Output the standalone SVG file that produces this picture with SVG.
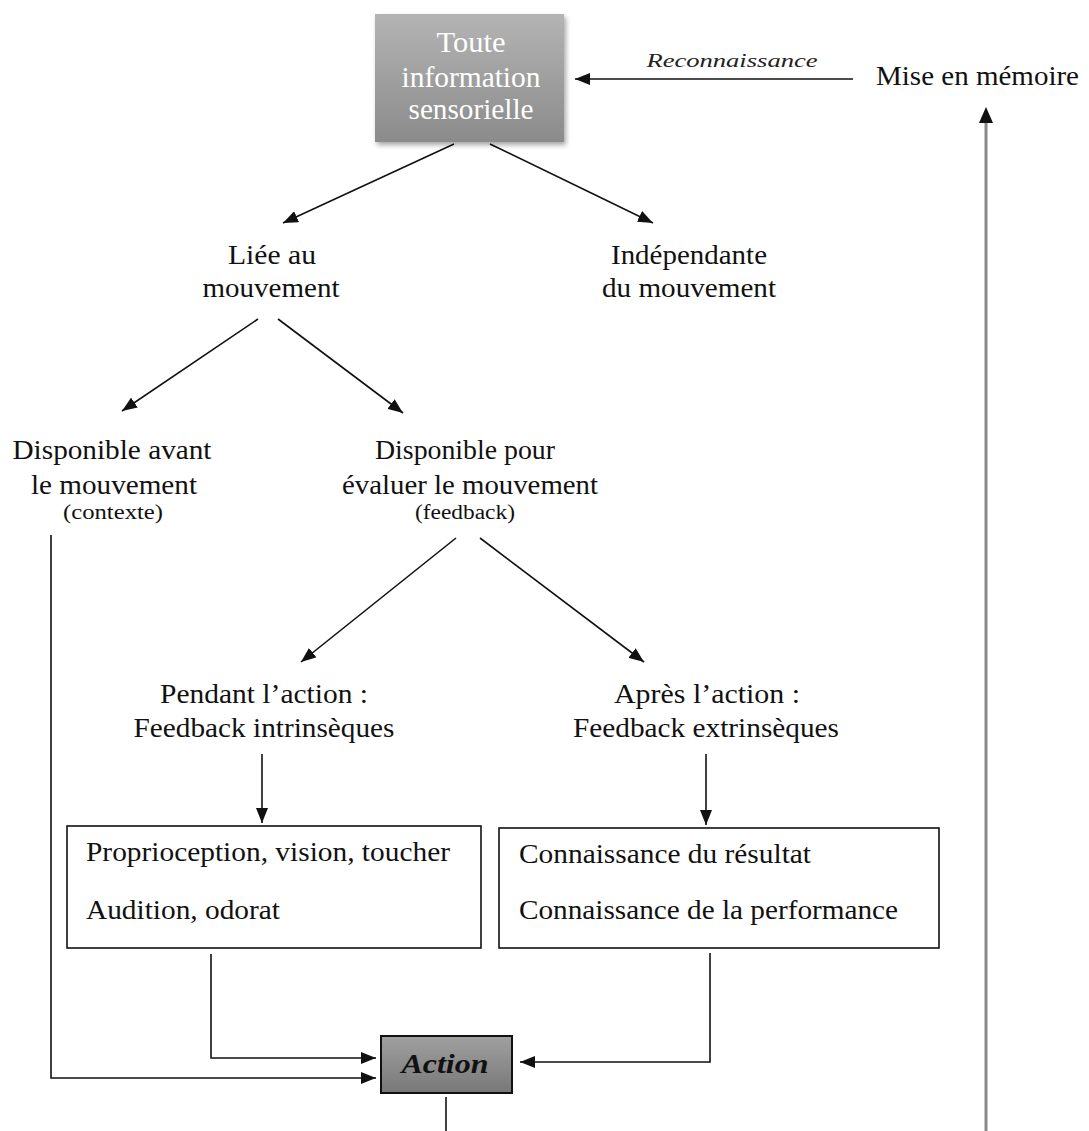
<svg xmlns="http://www.w3.org/2000/svg" width="1089" height="1131" viewBox="0 0 1089 1131" font-family="'Liberation Serif', Tinos, 'Times New Roman', Times, serif">
<style>
  text { font-family: 'Liberation Serif', Tinos, 'Times New Roman', Times, serif; }
  .t { font-size: 27px; fill: #111; text-anchor: middle; }
  .ts { font-size: 20px; fill: #111; text-anchor: middle; }
  .tl { font-size: 27px; fill: #111; text-anchor: start; }
  .tw { font-size: 29px; fill: #ffffff; text-anchor: middle; }
  .tr { font-size: 19px; font-style: italic; fill: #222; text-anchor: middle; }
  .ta { font-size: 28px; font-style: italic; font-weight: bold; fill: #111; text-anchor: middle; }
  .ln { fill: none; stroke: #111; stroke-width: 1.6; }
  .box { fill: #ffffff; stroke: #111; stroke-width: 1.6; }
</style>
<defs>
  <marker id="ah" markerUnits="userSpaceOnUse" markerWidth="16" markerHeight="12" refX="15" refY="6" orient="auto">
    <path d="M0,0 L15,6 L0,12 Z" fill="#111"/>
  </marker>
  <linearGradient id="gTop" x1="0" y1="0" x2="0" y2="1">
    <stop offset="0" stop-color="#b4b4b4"/>
    <stop offset="1" stop-color="#8b8b8b"/>
  </linearGradient>
  <linearGradient id="gAct" x1="0" y1="0" x2="0" y2="1">
    <stop offset="0" stop-color="#a0a0a0"/>
    <stop offset="1" stop-color="#787878"/>
  </linearGradient>
  <filter id="sh" x="-10%" y="-10%" width="125%" height="130%">
    <feDropShadow dx="2" dy="3" stdDeviation="2.5" flood-color="#000" flood-opacity="0.35"/>
  </filter>
</defs>

<g id="connectors">
  <line class="ln" x1="853" y1="79" x2="575" y2="79" marker-end="url(#ah)"/>
  <line x1="986" y1="1131" x2="986" y2="122" stroke="#8a8a8a" stroke-width="3"/>
  <path d="M979,123 L986,107 L993,123 Z" fill="#111"/>
  <line class="ln" x1="454" y1="144" x2="283" y2="223" marker-end="url(#ah)"/>
  <line class="ln" x1="490" y1="144" x2="653" y2="223" marker-end="url(#ah)"/>
  <line class="ln" x1="258" y1="319" x2="122" y2="411" marker-end="url(#ah)"/>
  <line class="ln" x1="278" y1="319" x2="403" y2="413" marker-end="url(#ah)"/>
  <line class="ln" x1="456" y1="538" x2="301" y2="662" marker-end="url(#ah)"/>
  <line class="ln" x1="480" y1="538" x2="644" y2="662" marker-end="url(#ah)"/>
  <line class="ln" x1="262" y1="754" x2="262" y2="823" marker-end="url(#ah)"/>
  <line class="ln" x1="706" y1="754" x2="706" y2="825" marker-end="url(#ah)"/>
  <polyline class="ln" points="211,954 211,1058 376,1058" marker-end="url(#ah)"/>
  <polyline class="ln" points="51,535 51,1078 376,1078" marker-end="url(#ah)"/>
  <polyline class="ln" points="710,953 710,1062 520,1062" marker-end="url(#ah)"/>
  <line class="ln" x1="446" y1="1097" x2="446" y2="1131"/>
  <text class="tr" x="732" y="67" textLength="171" lengthAdjust="spacingAndGlyphs">Reconnaissance</text>
</g>

<g id="node-info">
  <rect x="375" y="14" width="189" height="128" fill="url(#gTop)" filter="url(#sh)"/>
  <text class="tw" x="471" y="52" textLength="69" lengthAdjust="spacingAndGlyphs">Toute</text>
  <text class="tw" x="471" y="87" textLength="139" lengthAdjust="spacingAndGlyphs">information</text>
  <text class="tw" x="471" y="119" textLength="125" lengthAdjust="spacingAndGlyphs">sensorielle</text>
</g>

<g id="node-memoire">
  <text class="tl" x="876" y="85" textLength="203" lengthAdjust="spacingAndGlyphs">Mise en mémoire</text>
</g>

<g id="node-liee">
  <text class="t" x="272" y="264" textLength="88" lengthAdjust="spacingAndGlyphs">Liée au</text>
  <text class="t" x="271" y="297" textLength="137" lengthAdjust="spacingAndGlyphs">mouvement</text>
</g>

<g id="node-independante">
  <text class="t" x="689" y="264" textLength="156" lengthAdjust="spacingAndGlyphs">Indépendante</text>
  <text class="t" x="689" y="297" textLength="174" lengthAdjust="spacingAndGlyphs">du mouvement</text>
</g>

<g id="node-avant">
  <text class="t" x="112" y="459" textLength="199" lengthAdjust="spacingAndGlyphs">Disponible avant</text>
  <text class="t" x="114" y="494" textLength="166" lengthAdjust="spacingAndGlyphs">le mouvement</text>
  <text class="ts" x="113" y="519" textLength="100" lengthAdjust="spacingAndGlyphs">(contexte)</text>
</g>

<g id="node-evaluer">
  <text class="t" x="465" y="459" textLength="180" lengthAdjust="spacingAndGlyphs">Disponible pour</text>
  <text class="t" x="470" y="494" textLength="256" lengthAdjust="spacingAndGlyphs">évaluer le mouvement</text>
  <text class="ts" x="465" y="519" textLength="100" lengthAdjust="spacingAndGlyphs">(feedback)</text>
</g>

<g id="node-pendant">
  <text class="t" x="264" y="703" textLength="208" lengthAdjust="spacingAndGlyphs">Pendant l’action :</text>
  <text class="t" x="264" y="737" textLength="261" lengthAdjust="spacingAndGlyphs">Feedback intrinsèques</text>
</g>

<g id="node-apres">
  <text class="t" x="707" y="703" textLength="186" lengthAdjust="spacingAndGlyphs">Après l’action :</text>
  <text class="t" x="706" y="737" textLength="266" lengthAdjust="spacingAndGlyphs">Feedback extrinsèques</text>
</g>

<g id="node-intrinseques-box">
  <rect class="box" x="67" y="826" width="414" height="122"/>
  <text class="tl" x="86" y="861" textLength="364" lengthAdjust="spacingAndGlyphs">Proprioception, vision, toucher</text>
  <text class="tl" x="86" y="919" textLength="194" lengthAdjust="spacingAndGlyphs">Audition, odorat</text>
</g>

<g id="node-extrinseques-box">
  <rect class="box" x="499" y="828" width="440" height="120"/>
  <text class="tl" x="519" y="863" textLength="292" lengthAdjust="spacingAndGlyphs">Connaissance du résultat</text>
  <text class="tl" x="519" y="919" textLength="379" lengthAdjust="spacingAndGlyphs">Connaissance de la performance</text>
</g>

<g id="node-action">
  <rect x="381" y="1036" width="131" height="57" fill="url(#gAct)" stroke="#111" stroke-width="2"/>
  <text class="ta" x="445" y="1073" textLength="87" lengthAdjust="spacingAndGlyphs">Action</text>
</g>
</svg>
